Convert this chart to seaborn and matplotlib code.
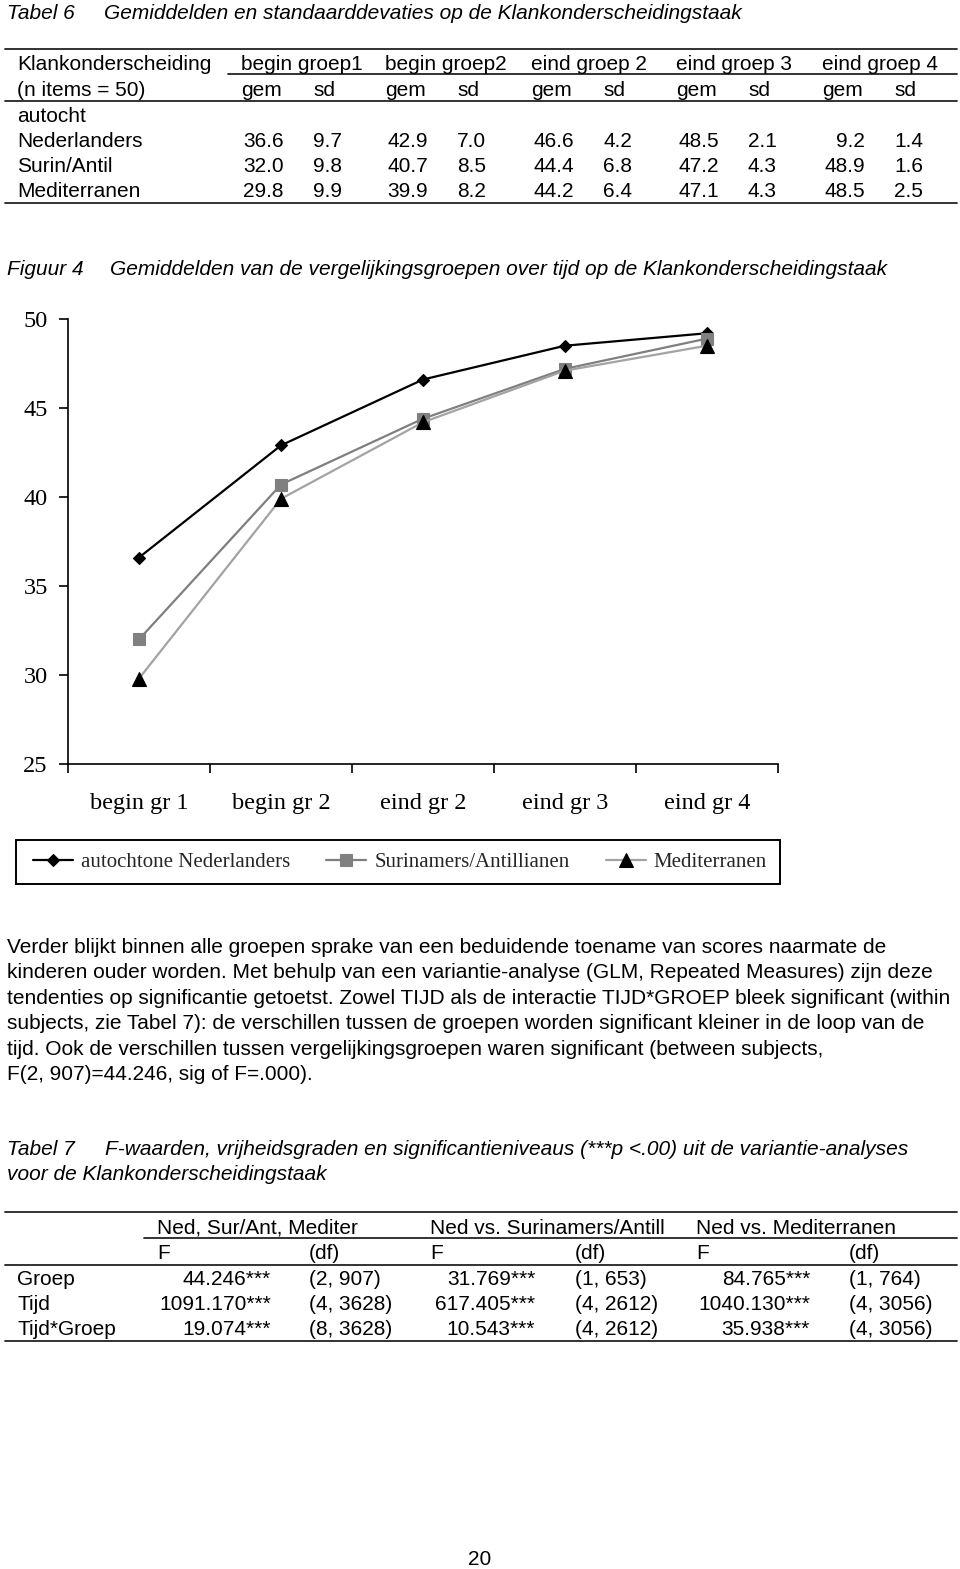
import matplotlib
matplotlib.use("Agg")
import matplotlib.pyplot as plt
from matplotlib.lines import Line2D
from matplotlib.patches import Rectangle
import seaborn as sns
import pandas as pd

# ---------------- data ----------------
categories = ["begin gr 1", "begin gr 2", "eind gr 2", "eind gr 3", "eind gr 4"]
ned = [36.6, 42.9, 46.6, 48.5, 49.2]
sur = [32.0, 40.7, 44.4, 47.2, 48.9]
med = [29.8, 39.9, 44.2, 47.1, 48.5]
series_names = ["autochtone Nederlanders", "Surinamers/Antillianen", "Mediterranen"]
y_ticks = [25, 30, 35, 40, 45, 50]

t6_groups = ["begin groep1", "begin groep2", "eind groep 2", "eind groep 3", "eind groep 4"]
t6_rows = ["Nederlanders", "Surin/Antil", "Mediterranen"]
t6_gem = [[36.6, 42.9, 46.6, 48.5, 9.2],
          [32.0, 40.7, 44.4, 47.2, 48.9],
          [29.8, 39.9, 44.2, 47.1, 48.5]]
t6_sd = [[9.7, 7.0, 4.2, 2.1, 1.4],
         [9.8, 8.5, 6.8, 4.3, 1.6],
         [9.9, 8.2, 6.4, 4.3, 2.5]]

t7_groups = ["Ned, Sur/Ant, Mediter", "Ned vs. Surinamers/Antill", "Ned vs. Mediterranen"]
t7_rows = ["Groep", "Tijd", "Tijd*Groep"]
t7_F = [["44.246***", "31.769***", "84.765***"],
        ["1091.170***", "617.405***", "1040.130***"],
        ["19.074***", "10.543***", "35.938***"]]
t7_df = [["(2, 907)", "(1, 653)", "(1, 764)"],
         ["(4, 3628)", "(4, 2612)", "(4, 3056)"],
         ["(8, 3628)", "(4, 2612)", "(4, 3056)"]]

paragraph = [
    "Verder blijkt binnen alle groepen sprake van een beduidende toename van scores naarmate de",
    "kinderen ouder worden. Met behulp van een variantie-analyse (GLM, Repeated Measures) zijn deze",
    "tendenties op significantie getoetst. Zowel TIJD als de interactie TIJD*GROEP bleek significant (within",
    "subjects, zie Tabel 7): de verschillen tussen de groepen worden significant kleiner in de loop van de",
    "tijd. Ook de verschillen tussen vergelijkingsgroepen waren significant (between subjects,",
    "F(2, 907)=44.246, sig of F=.000).",
]

# ---------------- setup ----------------
sns.set_theme(style="white")
plt.rcParams["font.family"] = ["Liberation Sans", "DejaVu Sans"]

W, H = 960, 1569
fig = plt.figure(figsize=(W / 100, H / 100), dpi=100)
fig.patch.set_facecolor("white")


def fx(x):
    return x / W


def fy(y):
    return 1 - y / H


SANS = ["Liberation Sans", "DejaVu Sans"]
SERIF = ["Liberation Serif", "DejaVu Serif"]
FS = 15
TOFF = 1.5  # small vertical text offset (px)


def txt(x, y, s, ha="left", style="normal", size=FS, family=SANS):
    fig.text(fx(x), fy(y + TOFF), s, ha=ha, va="center", fontsize=size,
             fontstyle=style, family=family, color="black")


def hline(x0, x1, y, lw=1.3):
    fig.add_artist(Line2D([fx(x0), fx(x1)], [fy(y), fy(y)],
                          transform=fig.transFigure, color="#222222", lw=lw))


# ---------------- Tabel 6 ----------------
txt(7, 12, "Tabel 6", style="italic")
txt(104, 12, "Gemiddelden en standaarddevaties op de Klankonderscheidingstaak", style="italic")

hline(5, 957, 49)
hline(228, 957, 74)
hline(5, 957, 101)
hline(5, 957, 203)

txt(17, 63, "Klankonderscheiding")
txt(17, 89, "(n items = 50)")
txt(17, 115, "autocht")
g_left = [241, 385, 531, 676, 822]
for i, g in enumerate(t6_groups):
    gl = g_left[i]
    txt(gl, 63, g)
    txt(gl, 89, "gem")
    txt(gl + 72, 89, "sd")
row_y6 = [140, 165, 190]
for r, name in enumerate(t6_rows):
    txt(17, row_y6[r], name)
    for i in range(5):
        gl = g_left[i]
        txt(gl + 43, row_y6[r], f"{t6_gem[r][i]:.1f}", ha="right")
        txt(gl + 72, row_y6[r], f"{t6_sd[r][i]:.1f}")

# ---------------- Figuur 4 ----------------
txt(7, 268, "Figuur 4", style="italic")
txt(110, 268, "Gemiddelden van de vergelijkingsgroepen over tijd op de Klankonderscheidingstaak",
    style="italic")

ax = fig.add_axes([fx(68), fy(764), 710 / W, 445 / H])
df = pd.DataFrame({
    "meting": categories * 3,
    "score": ned + sur + med,
    "groep": [series_names[0]] * 5 + [series_names[1]] * 5 + [series_names[2]] * 5,
})
styles = [
    dict(color="black", marker="D", markersize=6.4, markerfacecolor="black",
         markeredgecolor="black", linewidth=1.6),
    dict(color="#7f7f7f", marker="s", markersize=9, markerfacecolor="#808080",
         markeredgecolor="#808080", linewidth=1.6),
    dict(color="#a3a3a3", marker="^", markersize=9.5, markerfacecolor="black",
         markeredgecolor="black", linewidth=1.6),
]
for name, st in zip(series_names, styles):
    sub = df[df["groep"] == name]
    sns.lineplot(data=sub, x="meting", y="score", ax=ax, sort=False,
                 errorbar=None, label=name, clip_on=False, markeredgewidth=0.8, **st)

handles, labels = ax.get_legend_handles_labels()
if ax.get_legend() is not None:
    ax.get_legend().remove()

ax.set_xlim(-0.5, 4.5)
ax.set_ylim(25, 50)
ax.set_xlabel("")
ax.set_ylabel("")
ax.set_facecolor("white")
for sp in ["top", "right"]:
    ax.spines[sp].set_visible(False)
for sp in ["left", "bottom"]:
    ax.spines[sp].set_color("black")
    ax.spines[sp].set_linewidth(1.2)

ax.set_yticks(y_ticks)
ax.set_yticklabels([str(v) for v in y_ticks], family=SERIF, fontsize=17.5)
ax.set_xticks([i - 0.5 for i in range(6)])
ax.set_xticklabels([""] * 6)
ax.set_xticks(range(5), minor=True)
ax.set_xticklabels(categories, minor=True, family=SERIF, fontsize=17.5)
ax.tick_params(axis="y", which="major", direction="out", length=6.5, width=1.2,
               color="black", pad=8, left=True, labelcolor="black")
ax.tick_params(axis="x", which="major", direction="out", length=6.5, width=1.2,
               color="black", bottom=True)
ax.tick_params(axis="x", which="minor", length=0, pad=21, labelcolor="black", bottom=True)
ax.grid(False)

# legend
fig.patches.append(Rectangle((fx(16), fy(884)), (780 - 16) / W, 44 / H,
                             transform=fig.transFigure, fill=False,
                             edgecolor="black", linewidth=1.4))
fig.legend(handles, labels, ncol=3, loc="center", bbox_to_anchor=(fx(400), fy(862)),
           frameon=False, prop={"family": SERIF, "size": 15},
           handlelength=1.92, handletextpad=0.38, columnspacing=1.73,
           borderpad=0, borderaxespad=0)

# ---------------- paragraph ----------------
for i, line in enumerate(paragraph):
    txt(7, 946 + i * 25.4, line)

# ---------------- Tabel 7 ----------------
txt(7, 1148, "Tabel 7", style="italic")
txt(105, 1148, "F-waarden, vrijheidsgraden en significantieniveaus (***p <.00) uit de variantie-analyses",
    style="italic")
txt(7, 1173, "voor de Klankonderscheidingstaak", style="italic")

hline(5, 957, 1212)
hline(144, 957, 1238)
hline(5, 957, 1265)
hline(5, 957, 1341)

g7_left = [157, 430, 696]
f_right = [271, 535, 810]
df_left = [309, 575, 849]
for i, g in enumerate(t7_groups):
    txt(g7_left[i], 1227, g)
    txt(g7_left[i], 1252, "F")
    txt(df_left[i], 1252, "(df)")
row_y7 = [1278, 1303, 1328]
for r, name in enumerate(t7_rows):
    txt(17, row_y7[r], name)
    for i in range(3):
        txt(f_right[i], row_y7[r], t7_F[r][i], ha="right")
        txt(df_left[i], row_y7[r], t7_df[r][i])

# page number
txt(480, 1558, "20", ha="center")

fig.savefig("out.png", dpi=100, facecolor="white")
